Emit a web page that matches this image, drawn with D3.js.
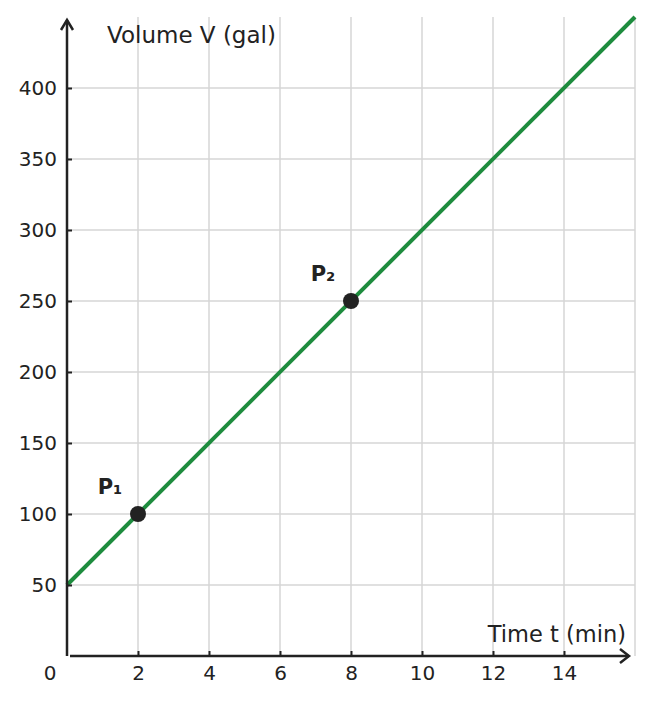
<!DOCTYPE html>
<html>
<head>
<meta charset="utf-8">
<script src="https://cdn.jsdelivr.net/npm/d3@7"></script>
<style>
  body { margin: 0; background: #fff; }
  svg { display: block; font-family: "DejaVu Sans", sans-serif; }
</style>
</head>
<body>
<div id="chart"></div>
<script>
var xTicks = [2, 4, 6, 8, 10, 12, 14];
var yTicks = [50, 100, 150, 200, 250, 300, 350, 400];
var lineT = [0, 16];
var lineV = [50, 450];
var points = [
	{ name: 'P', sub: '\u2081', t: 2, v: 100 },
	{ name: 'P', sub: '\u2082', t: 8, v: 250 }
];

var w = 652,
	h = 704,
	ink = '#222';

var x = d3.scaleLinear().domain([0, 16]).range([67, 635]);
var y = d3.scaleLinear().domain([0, 450]).range([656, 17]);

var svg = d3.select('#chart')
	.append('svg')
	.attr('width', w)
	.attr('height', h);

// grid
svg.append('g')
	.selectAll('line')
	.data(xTicks.concat([16]))
	.enter()
	.append('line')
	.attr('x1', function(d) { return x(d); })
	.attr('x2', function(d) { return x(d); })
	.attr('y1', y(450))
	.attr('y2', y(0))
	.attr('stroke', '#d6d6d6')
	.attr('stroke-width', 1.5);

svg.append('g')
	.selectAll('line')
	.data(yTicks)
	.enter()
	.append('line')
	.attr('x1', x(0))
	.attr('x2', x(16))
	.attr('y1', function(d) { return y(d); })
	.attr('y2', function(d) { return y(d); })
	.attr('stroke', '#d6d6d6')
	.attr('stroke-width', 1.5);

// line
var line = d3.line()
	.x(function(d) { return x(d[0]); })
	.y(function(d) { return y(d[1]); });

svg.append('path')
	.datum(lineT.map(function(t, i) { return [t, lineV[i]]; }))
	.attr('d', line)
	.attr('fill', 'none')
	.attr('stroke', '#1e8c3e')
	.attr('stroke-width', 4);

// axes
var xAxis = d3.axisBottom(x).tickValues(xTicks).tickSize(-5).tickPadding(10);
var yAxis = d3.axisLeft(y).tickValues(yTicks).tickSize(-5).tickPadding(10);

var gx = svg.append('g')
	.attr('transform', 'translate(0,' + y(0) + ')')
	.call(xAxis);
var gy = svg.append('g')
	.attr('transform', 'translate(' + x(0) + ',0)')
	.call(yAxis);

[gx, gy].forEach(function(g) {
	g.select('.domain').remove();
	g.selectAll('.tick line').attr('stroke', ink).attr('stroke-width', 2);
	g.selectAll('.tick text')
		.attr('fill', ink)
		.style('font-size', '20px')
		.style('font-family', '"DejaVu Sans", sans-serif');
});

svg.append('line')
	.attr('x1', x(0) + 3).attr('x2', 629)
	.attr('y1', y(0)).attr('y2', y(0))
	.attr('stroke', ink).attr('stroke-width', 2.5);
svg.append('path')
	.attr('d', 'M620,649 L629,' + y(0) + ' L620,663')
	.attr('fill', 'none').attr('stroke', ink).attr('stroke-width', 2.5);

svg.append('line')
	.attr('x1', x(0)).attr('x2', x(0))
	.attr('y1', y(0)).attr('y2', 20)
	.attr('stroke', ink).attr('stroke-width', 2.5);
svg.append('path')
	.attr('d', 'M' + (x(0) - 6) + ',30 L' + x(0) + ',20 L' + (x(0) + 6) + ',30')
	.attr('fill', 'none').attr('stroke', ink).attr('stroke-width', 2.5);

svg.append('text')
	.attr('x', 50).attr('y', 680)
	.attr('text-anchor', 'middle')
	.attr('fill', ink)
	.style('font-size', '20px')
	.text('0');

// axis titles
svg.append('text')
	.attr('x', 107).attr('y', 43)
	.attr('fill', ink)
	.style('font-size', '23px')
	.text('Volume V (gal)');

svg.append('text')
	.attr('x', 626).attr('y', 642)
	.attr('text-anchor', 'end')
	.attr('fill', ink)
	.style('font-size', '22.5px')
	.text('Time t (min)');

// points
svg.selectAll('circle')
	.data(points)
	.enter()
	.append('circle')
	.attr('cx', function(d) { return x(d.t); })
	.attr('cy', function(d) { return y(d.v); })
	.attr('r', 8)
	.attr('fill', ink);

svg.selectAll('.plabel')
	.data(points)
	.enter()
	.append('text')
	.attr('class', 'plabel')
	.attr('x', function(d) { return x(d.t) - 28; })
	.attr('y', function(d) { return y(d.v) - 20; })
	.attr('text-anchor', 'middle')
	.attr('fill', ink)
	.style('font-size', '21px')
	.style('font-weight', 'bold')
	.text(function(d) { return d.name + d.sub; });
</script>
</body>
</html>
